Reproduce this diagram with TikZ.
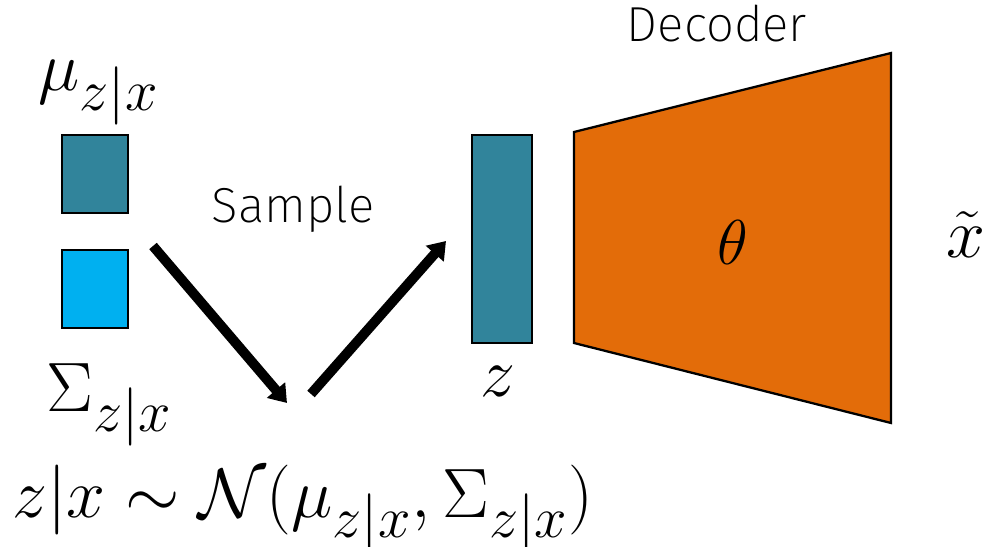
\documentclass[tikz,border=0pt]{standalone}
\usepackage{fontspec}
\IfFontExistsTF{Fira Sans ExtraLight}
  {\newfontfamily\thinsf{Fira Sans ExtraLight}}
  {\newfontfamily\thinsf{Fira Sans Light}}
\usetikzlibrary{arrows.meta,positioning}
\definecolor{latentblue}{HTML}{31849B}
\definecolor{varblue}{HTML}{00B0F0}
\definecolor{decorange}{HTML}{E36C09}
\tikzset{
  unit/.style={draw,line width=1.3pt,inner sep=0pt},
  mathlbl/.style={inner sep=0pt,font=\Huge,scale=1.6},
  sflbl/.style={inner sep=0pt,font=\thinsf\fontsize{28}{34}\selectfont},
  arrow/.style={-{Triangle[length=3.4mm,width=4.6mm]},line width=5.6pt},
}

\begin{document}
\begin{tikzpicture}[x=0.02cm,y=-0.02cm]
\useasboundingbox (0,0) rectangle (992,547);
% encoder outputs
\node[unit,fill=latentblue,minimum width=1.32cm,minimum height=1.56cm] (mubox) at (95,174) {};
\node[unit,fill=varblue,minimum width=1.32cm,minimum height=1.56cm] (sigmabox) at (95,289) {};
\node[mathlbl,anchor=base west] (mulbl) at (38,91) {$\mu_{z|x}$};
\node[mathlbl,anchor=base west] (sigmalbl) at (46,412) {$\Sigma_{z|x}$};
% sampling
\coordinate (s1) at (153,246);
\coordinate (dip) at (287,403);
\coordinate (s2) at (311,394);
\coordinate (t2) at (446,241);
\draw[arrow] (s1) -- (dip);
\draw[arrow] (s2) -- (t2);
\node[sflbl,anchor=base] (sample) at (293,223) {Sample};
\node[mathlbl,anchor=base west] (dist) at (12,518)
  {$z|x\sim\mathcal{N}(\mu_{z|x},\Sigma_{z|x})$};
% latent code
\node[unit,fill=latentblue,minimum width=1.2cm,minimum height=4.16cm] (zbar) at (502,239) {};
\node[mathlbl,anchor=base] (zlbl) at (498,397) {$z$};
% decoder
\coordinate (d1) at (574,132);
\coordinate (d2) at (891,53);
\coordinate (d3) at (891,423);
\coordinate (d4) at (574,343);
\draw[line width=1.3pt,fill=decorange,line join=miter] (d1) -- (d2) -- (d3) -- (d4) -- cycle;
\node[inner sep=0pt,font=\Huge,scale=1.45] (theta) at (733,242) {$\theta$};
\node[sflbl,anchor=base] (declbl) at (717,42) {Decoder};
\node[mathlbl,anchor=base] (xrec) at (966,258) {$\tilde{x}$};
\end{tikzpicture}
\end{document}
